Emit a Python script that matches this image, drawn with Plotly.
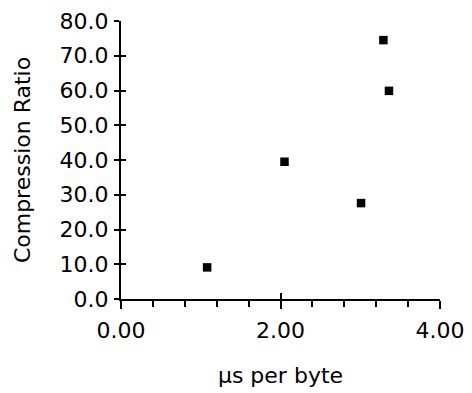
import plotly.graph_objects as go

us_per_byte = [1.08, 2.05, 3.01, 3.29, 3.36]
compression_ratio = [9.1, 39.5, 27.6, 74.5, 59.9]

FONT = "DejaVu Sans"
FS = 22

fig = go.Figure()
fig.add_trace(go.Scatter(
    x=us_per_byte, y=compression_ratio, mode="markers",
    marker=dict(symbol="square", size=8.5, color="black", line=dict(width=0)),
    showlegend=False, hoverinfo="skip",
))
# invisible trace to anchor overlay axes (for crossing ticks)
fig.add_trace(go.Scatter(x=[None], y=[None], xaxis="x2", yaxis="y2",
                         showlegend=False, hoverinfo="skip"))

# page body has an 8px margin, so the figure is 8px smaller and offset
fig.update_layout(
    width=464, height=385,
    margin=dict(l=113, r=32, t=13, b=94, autoexpand=False),
    paper_bgcolor="white", plot_bgcolor="white",
    font=dict(family=FONT, color="black"),
    xaxis=dict(
        range=[0, 4], tickvals=[0, 2, 4], tickformat=".2f",
        showgrid=False, zeroline=False, automargin=False,
        showline=True, linecolor="black", linewidth=2,
        ticks="outside", ticklen=8, tickwidth=2, tickcolor="black",
        minor=dict(dtick=0.4, tick0=0, ticks="outside", ticklen=6, tickwidth=2, tickcolor="black"),
        tickfont=dict(family=FONT, size=FS, color="black"),
        ticklabelstandoff=3,
        title=dict(text="μs per byte", font=dict(family=FONT, size=FS, color="black"), standoff=25),
    ),
    yaxis=dict(
        range=[0, 80], tickvals=[0, 10, 20, 30, 40, 50, 60, 70, 80], tickformat=".1f",
        showgrid=False, zeroline=False, automargin=False,
        showline=True, linecolor="black", linewidth=2,
        ticks="outside", ticklen=5, tickwidth=2, tickcolor="black",
        tickfont=dict(family=FONT, size=FS, color="black"),
        ticklabelstandoff=1,
        title=dict(text="Compression Ratio", font=dict(family=FONT, size=FS, color="black"), standoff=23),
    ),
    xaxis2=dict(
        overlaying="x", matches="x", range=[0, 4], tickvals=[0, 2, 4],
        showticklabels=False, showgrid=False, zeroline=False, showline=False,
        ticks="inside", ticklen=6, tickwidth=2, tickcolor="black", anchor="y2",
    ),
    yaxis2=dict(
        overlaying="y", matches="y", range=[0, 80], tickvals=[0, 10, 20, 30, 40, 50, 60, 70, 80],
        showticklabels=False, showgrid=False, zeroline=False, showline=False,
        ticks="inside", ticklen=5, tickwidth=2, tickcolor="black", anchor="x2",
    ),
)

fig.write_html("out.html")
